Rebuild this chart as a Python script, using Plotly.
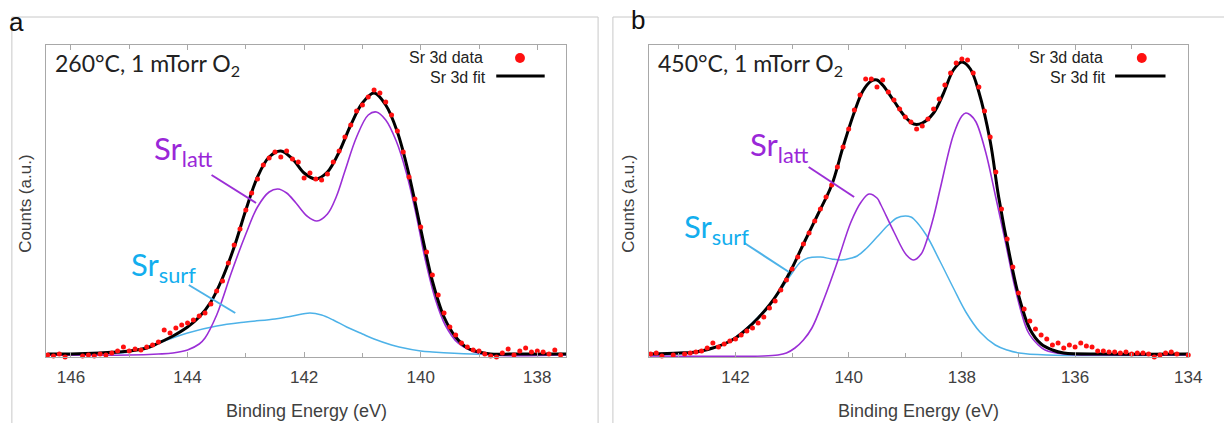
import plotly.graph_objects as go

W, H = 1224, 423

# ---------------- Panel a : 260 C ----------------
E_FIT_A = [146.4, 146.0, 145.5, 145.0, 144.7, 144.5, 144.25, 144.0, 143.8, 143.6, 143.4, 143.2, 143.0,
           142.8, 142.6, 142.4, 142.2, 142.0, 141.8, 141.6, 141.4, 141.2, 141.0, 140.8, 140.6, 140.4,
           140.2, 140.0, 139.8, 139.6, 139.4, 139.2, 139.0, 138.8, 138.4, 137.5]
FIT_A = [3, 3, 4, 6, 9, 14, 21, 30, 40, 55, 79, 110, 147,
         180, 200, 206, 198, 184, 178, 185, 205, 232, 254, 264, 252, 225,
         182, 128, 76, 40, 20, 9, 5, 3, 3, 3]

E_LATT_A = [146.4, 145.0, 144.5, 144.25, 144.0, 143.8, 143.7, 143.5, 143.4, 143.25, 143.0, 142.8, 142.6,
            142.45, 142.3, 142.14, 141.95, 141.78, 141.6, 141.45, 141.3, 141.1, 140.9, 140.76, 140.6,
            140.42, 140.25, 140.08, 139.92, 139.75, 139.58, 139.36, 139.07, 138.78, 137.5]
LATT_A = [2, 2, 3, 4, 7, 13, 19, 42, 58, 84, 123, 150, 165,
          168, 164, 154, 141, 136, 143, 160, 186, 220, 242, 245, 237,
          216, 185, 143, 97, 58, 32, 14, 5, 2, 2]

E_SURF_A = [146.4, 145.5, 145.0, 144.5, 144.0, 143.5, 143.0, 142.5, 142.2, 141.9, 141.7, 141.5, 141.27,
            141.0, 140.8, 140.5, 140.37, 140.0, 139.8, 139.12, 137.5]
SURF_A = [2, 3, 5, 14, 24, 31, 35, 38, 41, 44, 42, 37, 30,
          23, 18, 12, 10, 6, 5, 3, 3]

E_DATA_A = [146.4, 146.3, 146.2, 146.1, 146.0, 145.9, 145.8, 145.7, 145.6, 145.5,
            145.4, 145.3, 145.2, 145.1, 145.0, 144.9, 144.8, 144.7, 144.6, 144.5,
            144.4, 144.3, 144.2, 144.1, 144.0, 143.9, 143.8, 143.7, 143.6, 143.5,
            143.4, 143.3, 143.2, 143.1, 143.0, 142.9, 142.8, 142.7, 142.6, 142.5,
            142.4, 142.3, 142.2, 142.1, 142.0, 141.9, 141.8, 141.7, 141.6, 141.5,
            141.4, 141.3, 141.2, 141.1, 141.0, 140.9, 140.8, 140.7, 140.6, 140.5,
            140.4, 140.3, 140.2, 140.1, 140.0, 139.9, 139.8, 139.7, 139.6, 139.5,
            139.4, 139.3, 139.2, 139.1, 139.0, 138.9, 138.8, 138.7, 138.6, 138.5,
            138.4, 138.3, 138.2, 138.1, 138.0, 137.9, 137.8, 137.7, 137.6, 137.5]
DATA_A = [2, 1, 3, 0, -2, -1, 1, 2, 1, 3,
          2, 4, 6, 10, 6, 8, 7, 10, 12, 15,
          27, 24, 29, 32, 34, 37, 41, 44, 53, 66,
          76, 94, 112, 128, 147, 164, 178, 192, 199, 205,
          200, 206, 198, 195, 179, 184, 178, 177, 183, 195,
          206, 220, 232, 246, 252, 260, 267, 264, 255, 242,
          226, 205, 180, 158, 130, 105, 82, 62, 44, 30,
          22, 14, 10, 7, 6, 3, 1, 0, 4, 8,
          2, 6, 9, 5, 6, 5, 3, 7, 2, -2]

# ---------------- Panel b : 450 C ----------------
E_FIT_B = [143.52, 143.0, 142.7, 142.4, 142.2, 142.0, 141.8, 141.6, 141.4, 141.25, 141.0, 140.8,
           140.55, 140.3, 140.1, 139.9, 139.75, 139.6, 139.5, 139.4, 139.2, 139.0, 138.85, 138.7,
           138.5, 138.33, 138.15, 138.0, 137.85, 137.7, 137.5, 137.35, 137.15, 137.0, 136.8,
           136.6, 136.4, 136.2, 135.5, 134.0]
FIT_B = [3, 4, 5, 9, 13, 19, 28, 39, 52, 64, 89, 113,
         142, 172, 210, 245, 266, 276, 277, 272, 256, 240, 233, 234,
         244, 263, 287, 295, 288, 265, 216, 160, 100, 62, 28,
         13, 7, 4, 3, 3]

E_LATT_B = [143.52, 141.5, 141.25, 141.1, 140.95, 140.8, 140.65, 140.43, 140.2, 139.96, 139.78, 139.64,
            139.5, 139.43, 139.2, 138.98, 138.85, 138.72, 138.63, 138.5, 138.38, 138.15, 138.0,
            137.93, 137.85, 137.75, 137.58, 137.41, 137.23, 137.06, 136.83, 136.65, 136.53, 136.2,
            135.5, 134.0]
LATT_B = [1, 1, 2, 4, 9, 17, 29, 59, 95, 135, 155, 163,
          159, 152, 125, 102, 97, 103, 115, 140, 169, 222, 241,
          244, 242, 235, 205, 162, 115, 69, 25, 12, 7, 3,
          2, 2]

E_SURF_B = [143.52, 143.0, 142.38, 142.0, 141.6, 141.25, 141.0, 140.85, 140.72, 140.5, 140.3, 140.13,
            139.95, 139.85, 139.7, 139.5, 139.3, 139.15, 139.0, 138.9, 138.85, 138.63, 138.38, 138.15,
            137.93, 137.68, 137.41, 137.2, 136.99, 136.5, 134.0]
SURF_B = [2, 3, 9, 20, 40, 63, 84, 95, 99, 100, 98, 97,
          99, 101, 108, 120, 132, 139, 141, 140, 138, 122, 95, 69,
          45, 25, 12, 7, 4, 2, 2]

E_DATA_B = [143.5, 143.4, 143.3, 143.2, 143.1, 143.0, 142.9, 142.8, 142.7, 142.6,
            142.5, 142.4, 142.3, 142.2, 142.1, 142.0, 141.9, 141.8, 141.7, 141.6,
            141.5, 141.4, 141.3, 141.2, 141.1, 141.0, 140.9, 140.8, 140.7, 140.6,
            140.5, 140.4, 140.3, 140.2, 140.1, 140.0, 139.9, 139.8, 139.7, 139.6,
            139.5, 139.4, 139.3, 139.2, 139.1, 139.0, 138.9, 138.8, 138.7, 138.6,
            138.5, 138.4, 138.3, 138.2, 138.1, 138.0, 137.9, 137.8, 137.7, 137.6,
            137.5, 137.4, 137.3, 137.2, 137.1, 137.0, 136.9, 136.8, 136.7, 136.6,
            136.5, 136.4, 136.3, 136.2, 136.1, 136.0, 135.9, 135.8, 135.7, 135.6,
            135.5, 135.4, 135.3, 135.2, 135.1, 135.0, 134.9, 134.8, 134.7, 134.6,
            134.5, 134.4, 134.3, 134.2, 134.1, 134.0]
DATA_B = [3, 4, 1, -1, 2, -1, 3, 4, 5, 6,
          9, 14, 10, 13, 16, 18, 22, 26, 29, 34,
          40, 49, 56, 67, 77, 88, 100, 113, 124, 136,
          148, 160, 172, 190, 210, 228, 247, 262, 278, 278,
          270, 277, 265, 257, 248, 240, 235, 228, 231, 238,
          248, 258, 272, 284, 294, 298, 297, 284, 270, 246,
          220, 185, 148, 118, 90, 64, 48, 36, 28, 22,
          18, 12, 14, 9, 12, 10, 14, 11, 10, 6,
          6, 5, 5, 4, 5, 3, 4, 4, 3, 0,
          2, 4, 5, 3, -4, 2]

X_RANGE_A = [146.42, 137.5]
X_RANGE_B = [143.52, 134.0]
TICKS_A = [146, 144, 142, 140, 138]
TICKS_B = [142, 140, 138, 136, 134]

PURPLE = "#9B2FD6"
PURPLE_TXT = "#9A27D8"
BLUE = "#4DB2E8"
BLUE_TXT = "#13AEEE"
GREY = "#a8a8a8"

# plot boxes in pixels
TOP, BOT = 45, 357
AX_A = (47, 573)
AX_B = (657, 1202)


def px(x):
    return x / W


def py(y):
    return 1 - y / H


fig = go.Figure()

for (ef, f, el, l, es, s, ed, d, xa, ya) in [
    (E_FIT_A, FIT_A, E_LATT_A, LATT_A, E_SURF_A, SURF_A, E_DATA_A, DATA_A, "x", "y"),
    (E_FIT_B, FIT_B, E_LATT_B, LATT_B, E_SURF_B, SURF_B, E_DATA_B, DATA_B, "x2", "y2"),
]:
    fig.add_trace(go.Scatter(x=es, y=s, mode="lines", line=dict(color=BLUE, width=1.5, shape="spline"),
                             xaxis=xa, yaxis=ya, showlegend=False, cliponaxis=False))
    fig.add_trace(go.Scatter(x=el, y=l, mode="lines", line=dict(color=PURPLE, width=1.6, shape="spline"),
                             xaxis=xa, yaxis=ya, showlegend=False, cliponaxis=False))
    fig.add_trace(go.Scatter(x=ef, y=f, mode="lines", line=dict(color="black", width=3, shape="spline"),
                             xaxis=xa, yaxis=ya, showlegend=False, cliponaxis=False))
    fig.add_trace(go.Scatter(x=ed, y=d, mode="markers", marker=dict(color="#ff1010", size=5),
                             xaxis=xa, yaxis=ya, showlegend=False, cliponaxis=False))

ydom = [py(BOT), py(TOP)]
tickfont = dict(family="Liberation Sans, Arial", size=17, color="#404040")


def xaxis(rng, ticks, dom):
    return dict(domain=dom, range=rng, tickvals=ticks, ticktext=[str(t) for t in ticks],
                showline=True, linecolor=GREY, linewidth=1, mirror="ticks",
                ticks="inside", ticklen=5, tickcolor=GREY, tickwidth=1,
                minor=dict(dtick=1, ticks="inside", ticklen=4, tickcolor=GREY),
                showgrid=False, zeroline=False, tickfont=tickfont, ticklabelstandoff=5)


def yaxis(anchor):
    return dict(domain=ydom, range=[0, BOT - TOP], showline=True, linecolor=GREY, linewidth=1,
                mirror=True, ticks="", showticklabels=False, showgrid=False, zeroline=False,
                anchor=anchor)


fig.update_layout(
    width=W, height=H, margin=dict(l=0, r=0, t=0, b=0),
    paper_bgcolor="white", plot_bgcolor="white", showlegend=False,
    xaxis=dict(**xaxis(X_RANGE_A, TICKS_A, [px(AX_A[0]), px(AX_A[1])]), anchor="y"),
    yaxis=yaxis("x"),
    xaxis2=dict(**xaxis(X_RANGE_B, TICKS_B, [px(AX_B[0]), px(AX_B[1])]), anchor="y2"),
    yaxis2=yaxis("x2"),
)

shapes = []
# outer panel frames
for (x0, x1) in [(12, 605), (620, 1240)]:
    shapes.append(dict(type="line", xref="paper", yref="paper", x0=px(x0), x1=px(x1), y0=py(17), y1=py(17),
                       line=dict(color="#c8c8c8", width=1)))
    shapes.append(dict(type="line", xref="paper", yref="paper", x0=px(x0), x1=px(x0), y0=py(17), y1=py(430),
                       line=dict(color="#c8c8c8", width=1)))
    shapes.append(dict(type="line", xref="paper", yref="paper", x0=px(x1), x1=px(x1), y0=py(17), y1=py(430),
                       line=dict(color="#c8c8c8", width=1)))

# leader lines
for (a, b, c) in [((214, 175), (259, 203), PURPLE), ((191, 285), (238, 313), BLUE),
                  ((818, 167), (864, 197), PURPLE), ((753, 243), (798, 272), BLUE)]:
    shapes.append(dict(type="line", xref="paper", yref="paper", x0=px(a[0]), y0=py(a[1]),
                       x1=px(b[0]), y1=py(b[1]), line=dict(color=c, width=2)))

# manual legends
for (dx, lx0, lx1) in [(526, 502, 551), (1155, 1128, 1179)]:
    shapes.append(dict(type="circle", xref="paper", yref="paper", x0=px(dx - 5), x1=px(dx + 5),
                       y0=py(58 + 5), y1=py(58 - 5), fillcolor="#ff1010", line=dict(width=0)))
    shapes.append(dict(type="line", xref="paper", yref="paper", x0=px(lx0), x1=px(lx1), y0=py(76), y1=py(76),
                       line=dict(color="black", width=3)))

fig.update_layout(shapes=shapes)

ann = []


def add(text, x, y, size, color="#222", family="Liberation Sans, Arial", xanchor="center",
        yanchor="middle", angle=0):
    ann.append(dict(text=text, x=px(x), y=py(y), xref="paper", yref="paper", showarrow=False,
                    xanchor=xanchor, yanchor=yanchor, textangle=angle,
                    font=dict(size=size, color=color, family=family)))


add("a", 17, 22, 26, color="#111")
add("b", 645, 20, 26, color="#111")
add("260°C, 1 mTorr O<sub>2</sub>", 54, 64, 23, family="Lato", xanchor="left")
add("450°C, 1 mTorr O<sub>2</sub>", 664, 64, 23, family="Lato", xanchor="left")
add("Sr 3d data", 491, 58, 16, xanchor="right")
add("Sr 3d fit", 494, 77, 16, xanchor="right")
add("Sr 3d data", 1118, 58, 16, xanchor="right")
add("Sr 3d fit", 1121, 77, 16, xanchor="right")
add("Sr<sub>latt</sub>", 154, 151, 31, color=PURPLE_TXT, family="Lato", xanchor="left")
add("Sr<sub>surf</sub>", 130, 266, 31, color=BLUE_TXT, family="Lato", xanchor="left")
add("Sr<sub>latt</sub>", 757, 146, 31, color=PURPLE_TXT, family="Lato", xanchor="left")
add("Sr<sub>surf</sub>", 690, 228, 31, color=BLUE_TXT, family="Lato", xanchor="left")
add("Binding Energy (eV)", 310, 411, 18, color="#404040")
add("Binding Energy (eV)", 929, 411, 18, color="#404040")
add("Counts (a.u.)", 25, 204, 17, color="#404040", angle=-90)
add("Counts (a.u.)", 635, 204, 17, color="#404040", angle=-90)

fig.update_layout(annotations=ann)

fig.write_html("out.html")
